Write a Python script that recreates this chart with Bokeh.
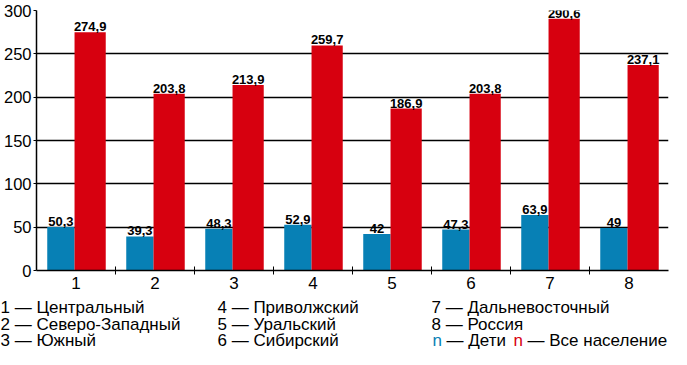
from bokeh.plotting import figure
from bokeh.models import ColumnDataSource, FixedTicker, Label
from bokeh.layouts import column, row
from bokeh.core.properties import value
from bokeh.transform import dodge
from bokeh.embed import file_html
from bokeh.resources import INLINE

regions = [1, 2, 3, 4, 5, 6, 7, 8]
children = [50.3, 39.3, 48.3, 52.9, 42, 47.3, 63.9, 49]
population = [274.9, 203.8, 213.9, 259.7, 186.9, 203.8, 290.6, 237.1]
y_ticks = [0, 50, 100, 150, 200, 250, 300]
legend_rows = [
    ["1 — Центральный", "2 — Северо-Западный", "3 — Южный"],
    ["4 — Приволжский", "5 — Уральский", "6 — Сибирский"],
    ["7 — Дальневосточный", "8 — Россия"],
]
series_names = ["Дети", "Все население"]

BLUE = "#0780B5"
RED = "#D7000F"
FONT = "Liberation Sans"
BL, BR, FW = 32, 7, 632
W = BL + BR + FW


def fmt(v):
    return f"{v:g}".replace(".", ",")


src = ColumnDataSource(dict(
    x=regions,
    children=children,
    population=population,
    children_lbl=[fmt(v) for v in children],
    population_lbl=[fmt(v) for v in population],
))

p = figure(
    output_backend="svg", toolbar_location=None,
    frame_width=FW, frame_height=260,
    min_border_left=BL, min_border_right=BR, min_border_top=10, min_border_bottom=28,
    x_range=(0.5, 8.5), y_range=(0, 300),
)
p.outline_line_color = None
p.background_fill_color = "white"
p.border_fill_color = "white"

p.vbar(x=dodge("x", -0.191), top="children", width=0.346, source=src,
       fill_color=BLUE, line_color=None)
p.vbar(x=dodge("x", 0.179), top="population", width=0.395, source=src,
       fill_color=RED, line_color=None)

for xoff, col in [(-0.191, "children"), (0.179, "population")]:
    p.text(x=dodge("x", xoff), y=col, text=col + "_lbl", source=src,
           text_align="center", text_baseline="bottom", y_offset=-1,
           text_font=value(FONT), text_font_style="bold", text_font_size="13px",
           text_color="black")

# axes
p.xaxis.ticker = FixedTicker(ticks=regions, minor_ticks=[r + 0.5 for r in regions[:-1]])
p.xaxis.major_tick_in = 0
p.xaxis.major_tick_out = 0
p.xaxis.minor_tick_in = 4
p.xaxis.minor_tick_out = 4
p.xaxis.minor_tick_line_color = "black"
p.xaxis.minor_tick_line_width = 1
p.xaxis.axis_line_color = "black"
p.xaxis.axis_line_width = 1.5
p.xaxis.major_label_text_font = FONT
p.xaxis.major_label_text_font_size = "17px"
p.xaxis.major_label_text_color = "black"
p.xaxis.major_label_standoff = 2

p.yaxis.ticker = FixedTicker(ticks=y_ticks)
p.yaxis.minor_tick_line_color = None
p.yaxis.major_tick_in = 0
p.yaxis.major_tick_out = 3
p.yaxis.major_tick_line_color = "black"
p.yaxis.axis_line_color = "black"
p.yaxis.axis_line_width = 1.5
p.yaxis.major_label_text_font = FONT
p.yaxis.major_label_text_font_size = "16.5px"
p.yaxis.major_label_text_color = "black"
p.yaxis.major_label_standoff = 2

p.xgrid.grid_line_color = None
p.ygrid.ticker = FixedTicker(ticks=y_ticks[1:])
p.ygrid.grid_line_color = "black"
p.ygrid.grid_line_width = 1.5

# legend panel under the chart (full-width frame, wrapped in a row)
LH = 51
lg = figure(
    output_backend="svg", toolbar_location=None,
    frame_width=W, frame_height=LH, min_border=0,
    x_range=(0, W), y_range=(0, LH),
    x_axis_location=None, y_axis_location=None,
)
lg.grid.visible = False
lg.outline_line_color = None
lg.background_fill_color = "white"
lg.border_fill_color = "white"

col_x = [0, 217, 431]
row_y = [42, 25, 9]
FS = "17px"
for ci, col in enumerate(legend_rows):
    for ri, txt in enumerate(col):
        lg.add_layout(Label(x=col_x[ci], y=row_y[ri], text=txt, text_font=FONT,
                            text_font_size=FS, text_color="black", text_baseline="middle"))

ly = row_y[2]
for x0, txt, colr in [(432, "n", BLUE), (446, "— " + series_names[0], "black"),
                      (513, "n", RED), (527, "— " + series_names[1], "black")]:
    lg.add_layout(Label(x=x0, y=ly, text=txt, text_font=FONT, text_font_size=FS,
                        text_color=colr, text_baseline="middle"))

layout = column(p, row(lg), spacing=0)
open("out.html", "w").write(file_html(layout, INLINE))
